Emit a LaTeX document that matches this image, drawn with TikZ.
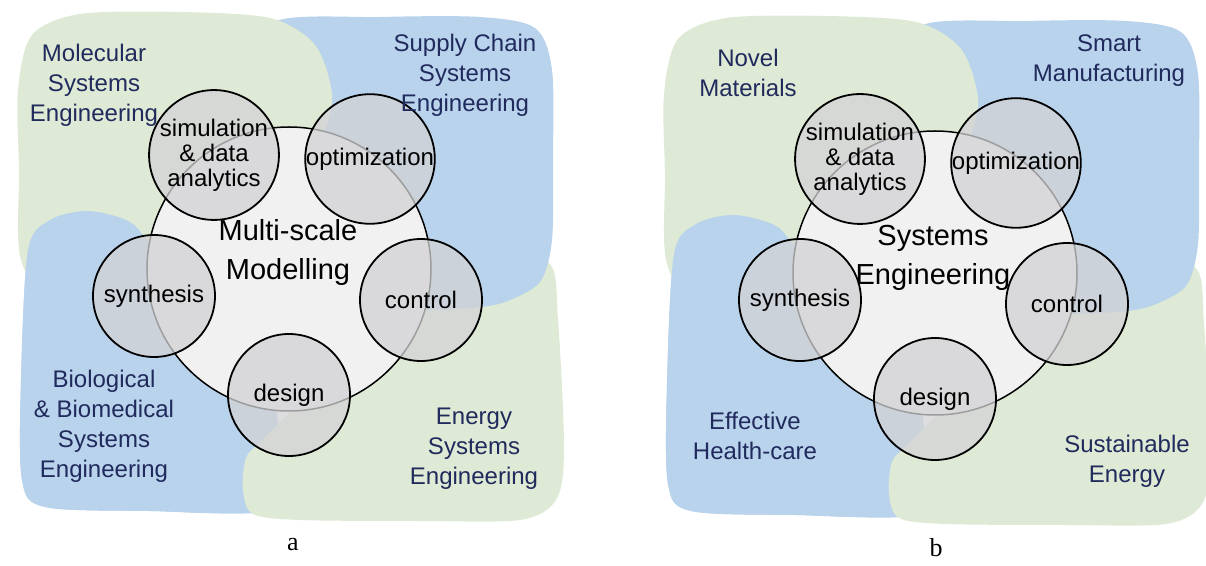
\documentclass[tikz,border=0pt]{standalone}
\usepackage{fontspec}
\setmainfont{Liberation Sans}
\newfontfamily\capfont{Liberation Serif}

\definecolor{bggreen}{RGB}{222,234,213}
\definecolor{bgblue}{RGB}{185,211,236}
\definecolor{discfill}{RGB}{241,241,241}
\definecolor{topicfill}{RGB}{210,210,212}
\definecolor{areatext}{RGB}{32,42,92}

% the four coloured areas of one panel (pixel coordinates)
\newcommand{\blobGreenTL}{plot[smooth cycle] coordinates {(18,90) (32,35) (80,14) (180,12) (270,18) (315,45) (332,95) (322,140) (290,230) (200,300) (60,300) (21,260) (19,170)}}
\newcommand{\blobBlueTR}{plot[smooth cycle] coordinates {(275,22) (380,17) (480,17) (535,28) (552,70) (553,160) (552,240) (540,282) (505,302) (470,308) (400,310) (340,300) (300,200) (285,80)}}
\newcommand{\blobGreenBR}{plot[smooth cycle] coordinates {(243,490) (246,458) (262,440) (320,380) (400,270) (480,255) (548,262) (558,320) (564,450) (556,500) (520,520) (420,521) (300,520) (253,514)}}
\newcommand{\blobBlueBL}{plot[smooth cycle] coordinates {(22,480) (21,380) (28,250) (50,220) (88,211) (130,222) (155,250) (220,320) (270,380) (280,470) (268,511) (150,511) (45,507)}}

\begin{document}
\begin{tikzpicture}[x=0.5pt,y=-0.5pt]
\tikzstyle{core}=[draw,circle,fill=discfill,line width=0.75pt,minimum size=142pt,inner sep=0pt]
\tikzstyle{topic}=[draw,circle,fill=topicfill,fill opacity=0.75,text opacity=1,line width=0.9pt,minimum size=61pt,inner sep=0pt,align=center,font=\fontsize{12}{12.5}\selectfont]
\tikzstyle{maintext}=[align=center,font=\fontsize{14.5}{19.5}\selectfont]
\tikzstyle{area}=[align=center,text=areatext,font=\fontsize{12}{15}\selectfont]
\tikzstyle{tag}=[font=\capfont\fontsize{13}{15}\selectfont]
\useasboundingbox (0,0) rectangle (1206,566);

% backgrounds (cyclic overlap: blue BL drawn again on top of green TL)
\foreach \dx/\dy in {0/0,646/4}{
  \begin{scope}[shift={(\dx,\dy)}]
    \fill[bgblue] \blobBlueBL;
    \fill[bggreen] \blobGreenBR;
    \fill[bgblue] \blobBlueTR;
    \fill[bggreen] \blobGreenTL;
    \begin{scope}
      \clip (0,150) rectangle (200,566);
      \fill[bgblue] \blobBlueBL;
    \end{scope}
  \end{scope}
}

% panel a
\node[core] (coreA) at (289,269) {};
\node[topic] (simA) at (214,155) {simulation\\\& data\\analytics};
\node[topic] (optA) at (370,159) {optimization};
\node[topic] (synA) at (154,296) {synthesis};
\node[topic] (ctlA) at (421,300) {control};
\node[topic] (desA) at (289,395) {design};
\node[maintext] (mainA) at (288,253) {Multi-scale\\Modelling};
\node[area] (molA) at (94,85) {Molecular\\Systems\\Engineering};
\node[area] (supA) at (465,75) {Supply Chain\\Systems\\Engineering};
\node[area] (bioA) at (104,426) {Biological\\\& Biomedical\\Systems\\Engineering};
\node[area] (enA) at (474,449) {Energy\\Systems\\Engineering};
\node[tag] (capA) at (293,545) {a};

% panel b
\begin{scope}[shift={(646,4)}]
\node[core] (coreB) at (289,269) {};
\node[topic] (simB) at (214,155) {simulation\\\& data\\analytics};
\node[topic] (optB) at (370,159) {optimization};
\node[topic] (synB) at (154,296) {synthesis};
\node[topic] (ctlB) at (421,300) {control};
\node[topic] (desB) at (289,395) {design};
\end{scope}
\node[maintext] (mainB) at (933,258) {Systems\\Engineering};
\node[area] (novB) at (748,73) {Novel\\Materials};
\node[area] (smaB) at (1109,61) {Smart\\Manufacturing};
\node[area] (heaB) at (755,436) {Effective\\Health-care};
\node[area] (susB) at (1127,461) {Sustainable\\Energy};
\node[tag] (capB) at (936,548) {b};
\end{tikzpicture}
\end{document}
